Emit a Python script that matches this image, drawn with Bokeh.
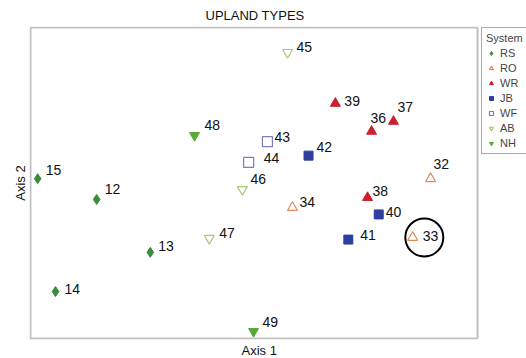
from bokeh.plotting import figure
from bokeh.models import Range1d, LabelSet, ColumnDataSource, Legend, Title, BoxAnnotation
from bokeh.embed import file_html
from bokeh.resources import INLINE
from bokeh.core.properties import value

# ---- data (ordination scores; arbitrary 0-100 scale) ----
systems = ["RS", "RO", "WR", "JB", "WF", "AB", "NH"]

rs_ids = ["15", "12", "13", "14"]
rs_x = [1.6, 14.8, 26.8, 5.6]
rs_y = [51.4, 44.7, 27.7, 15.1]

ro_ids = ["32", "34", "33"]
ro_x = [89.5, 58.6, 85.5]
ro_y = [51.4, 42.1, 32.5]

wr_ids = ["39", "36", "37", "38"]
wr_x = [68.2, 76.3, 81.2, 75.4]
wr_y = [75.6, 66.6, 69.8, 45.3]

jb_ids = ["42", "40", "41"]
jb_x = [62.2, 77.9, 71.1]
jb_y = [58.8, 39.9, 31.8]

wf_ids = ["43", "44"]
wf_x = [53.0, 48.8]
wf_y = [63.3, 56.6]

ab_ids = ["45", "46", "47"]
ab_x = [57.5, 47.4, 40.0]
ab_y = [92.0, 47.9, 32.2]

nh_ids = ["48", "49"]
nh_x = [36.7, 49.9]
nh_y = [65.3, 2.3]

# highlighted plot (circled)
circled_id = "33"

# label offsets in pixels (dx, dy downwards) -- layout only
label_off = {
    "15": (8, -9), "12": (8, -10), "13": (8, -6), "14": (9, -3),
    "32": (3, -15), "34": (7, -6), "33": (10, -1),
    "39": (9, -2), "36": (-1, -13), "37": (4, -14), "38": (5, -7),
    "42": (8, -9), "40": (7, -2), "41": (12, -5),
    "43": (7, -5), "44": (15, -4),
    "45": (9, -5), "46": (8, -11), "47": (10, -5),
    "48": (10, -10), "49": (9, -9),
}

FONT = "Liberation Sans"

# the frame extends to the right edge so the legend can sit beside the box
p = figure(width=526, height=358, output_backend="svg", toolbar_location=None,
           x_range=Range1d(-0.224, 110.96), y_range=Range1d(-0.32, 100.32),
           min_border_left=29, min_border_right=0, min_border_top=26,
           min_border_bottom=19)
p.axis.visible = False
p.grid.visible = False
p.outline_line_color = None
p.background_fill_color = "white"
p.border_fill_color = "white"

# visible plot box (axis extents 0..100)
p.add_layout(BoxAnnotation(left=0, right=100, bottom=0, top=100,
                           fill_color=None, line_color="#333333", line_width=2))

def make_title(text, standoff, align="center", offset=0):
    return Title(text=text, align=align, offset=offset, text_font=FONT,
                 text_font_size="13px", text_font_style="normal",
                 text_color="#111111", standoff=standoff)

p.add_layout(make_title("UPLAND TYPES", 7, "left", 176), "above")
p.add_layout(make_title("Axis 1", 2, "left", 212), "below")
p.add_layout(make_title("Axis 2", 4), "left")

series = [
    ("RS", rs_ids, rs_x, rs_y, dict(marker="diamond", size=10, fill_color="#3b8a3e", line_color="#3b8a3e")),
    ("RO", ro_ids, ro_x, ro_y, dict(marker="triangle", size=10, fill_color=None, line_color="#e08a5a", line_width=1.2)),
    ("WR", wr_ids, wr_x, wr_y, dict(marker="triangle", size=10, fill_color="#cc1f2d", line_color="#cc1f2d")),
    ("JB", jb_ids, jb_x, jb_y, dict(marker="square", size=9, fill_color="#2f3f9e", line_color="#2f3f9e")),
    ("WF", wf_ids, wf_x, wf_y, dict(marker="square", size=10, fill_color=None, line_color="#7c7cc0", line_width=1.2)),
    ("AB", ab_ids, ab_x, ab_y, dict(marker="inverted_triangle", size=10, fill_color=None, line_color="#a8c878", line_width=1.2)),
    ("NH", nh_ids, nh_x, nh_y, dict(marker="inverted_triangle", size=10, fill_color="#5aa83a", line_color="#5aa83a")),
]

items = []
for name, ids, xs, ys, style in series:
    src = ColumnDataSource(dict(x=xs, y=ys, id=ids,
                                dx=[label_off[i][0] for i in ids],
                                dy=[-label_off[i][1] for i in ids]))
    r = p.scatter("x", "y", source=src, **style)
    items.append((name, [r]))
    p.add_layout(LabelSet(x="x", y="y", text="id", source=src,
                          x_offset="dx", y_offset="dy",
                          text_font=value(FONT), text_font_size="14px",
                          text_color="#111111", text_baseline="middle"))

# circle around the highlighted plot
ci = ro_ids.index(circled_id)
p.scatter([ro_x[ci] + 2.6], [ro_y[ci]], marker="circle", size=38,
          fill_color=None, line_color="black", line_width=2)

legend = Legend(items=items, title="System", location=(452, 185),
                title_text_font=FONT, title_text_font_size="11px",
                title_text_font_style="normal", title_standoff=3,
                label_text_font=FONT, label_text_font_size="11px",
                glyph_width=10, glyph_height=10, label_height=12,
                label_standoff=4, spacing=3, padding=4, margin=0,
                border_line_color="#555555", border_line_width=1.5,
                background_fill_color="white")
p.add_layout(legend, "center")

open("out.html", "w").write(file_html(p, INLINE))
